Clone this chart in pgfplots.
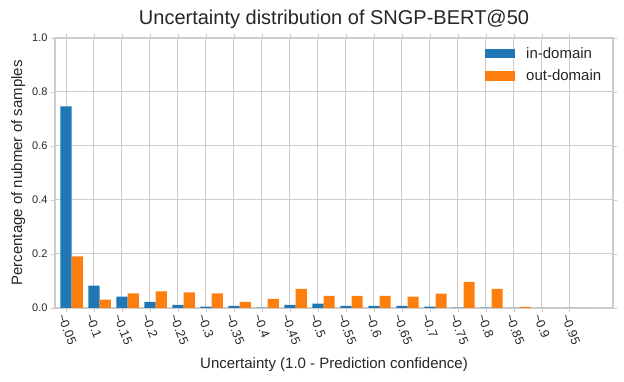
\documentclass[border=0pt]{standalone}
\usepackage{pgfplots}
\pgfplotsset{compat=1.18}
\usepackage{fontspec}
\setmainfont{Liberation Sans}
\definecolor{mblue}{HTML}{1F77B4}
\definecolor{morange}{HTML}{FF7F0E}
\definecolor{gridc}{HTML}{CCCCCC}
\definecolor{txt}{HTML}{262626}
\begin{document}
\begin{tikzpicture}[x=1pt,y=1pt]
\path[use as bounding box] (0,0) rectangle (624,382);
\begin{axis}[
  at={(55pt,74pt)}, anchor=south west,
  scale only axis, width=558pt, height=270pt,
  xmin=-0.393, xmax=19.54, ymin=0, ymax=1.0,
  /pgf/number format/assume math mode=true,
  axis line style={gridc, line width=1.2pt},
  grid=major, major grid style={gridc, line width=1pt},
  tick style={gridc, line width=0.8pt},
  tick align=outside, major tick length=4pt,
  xtick={0,...,18},
  xticklabels={\textasciitilde0.05,\textasciitilde0.1,\textasciitilde0.15,\textasciitilde0.2,\textasciitilde0.25,\textasciitilde0.3,\textasciitilde0.35,\textasciitilde0.4,\textasciitilde0.45,\textasciitilde0.5,\textasciitilde0.55,\textasciitilde0.6,\textasciitilde0.65,\textasciitilde0.7,\textasciitilde0.75,\textasciitilde0.8,\textasciitilde0.85,\textasciitilde0.9,\textasciitilde0.95},
  x tick label style={rotate=-68, anchor=west, font=\fontsize{12.5}{13}\selectfont, text=txt, xshift=-3pt, yshift=-5.5pt},
  ytick={0,0.2,0.4,0.6,0.8,1.0},
  yticklabel style={/pgf/number format/fixed, /pgf/number format/fixed zerofill, /pgf/number format/precision=1, font=\fontsize{11}{12}\selectfont, text=txt},
  xlabel={Uncertainty (1.0 - Prediction confidence)},
  ylabel={Percentage of nubmer of samples},
  xlabel style={font=\fontsize{15}{16}\selectfont, text=txt, at={(axis description cs:0.5,-0.211)}, anchor=center},
  ylabel style={font=\fontsize{15}{16}\selectfont, text=txt, at={(axis description cs:-0.066,0.5)}, anchor=center},
  title={Uncertainty distribution of SNGP-BERT@50},
  title style={font=\fontsize{20}{22}\selectfont, text=txt, at={(axis description cs:0.5,1.048)}, anchor=center},
  legend style={draw=none, fill=none, inner sep=0pt, at={(0.7706,0.974)}, anchor=north west, font=\fontsize{15}{17}\selectfont, text=txt, row sep=6pt},
  legend cell align=left,
  legend image code/.code={\fill[#1] (0pt,-4.75pt) rectangle (30pt,4.75pt); \path (0pt,0pt) (39pt,0pt);},
  clip=false,
]
\addplot[ybar, bar width=11.2pt, bar shift=0pt, fill=mblue, draw=none] coordinates {
(0,0.747) (1,0.083) (2,0.042) (3,0.023) (4,0.012) (5,0.005) (6,0.008) (7,0.001) (8,0.012) (9,0.016)
(10,0.008) (11,0.008) (12,0.008) (13,0.005) (14,0.001) (15,0.001) (16,0) (17,0) (18,0)};
\addlegendentry{in-domain}
\addplot[ybar, bar width=11.2pt, bar shift=11.2pt, fill=morange, draw=none] coordinates {
(0,0.191) (1,0.031) (2,0.054) (3,0.062) (4,0.058) (5,0.054) (6,0.023) (7,0.034) (8,0.071) (9,0.045)
(10,0.045) (11,0.045) (12,0.042) (13,0.053) (14,0.097) (15,0.071) (16,0.004) (17,0) (18,0)};
\addlegendentry{out-domain}
\end{axis}
\end{tikzpicture}
\end{document}
